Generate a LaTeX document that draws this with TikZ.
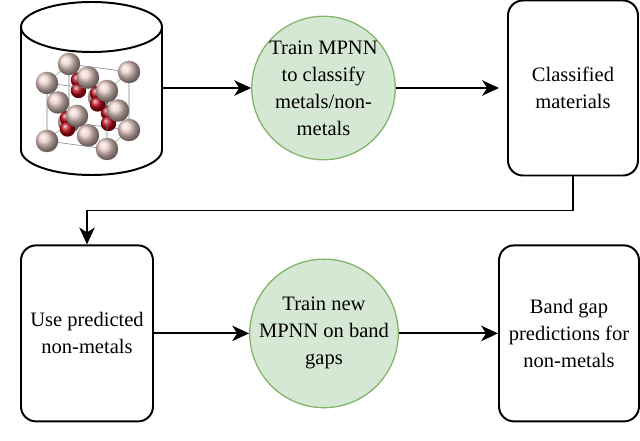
\documentclass[tikz,border=0pt]{standalone}
\usepackage{fontspec}
\setmainfont{Liberation Serif}
\usetikzlibrary{arrows.meta,positioning}
\definecolor{mpnnfill}{RGB}{213,232,212}
\definecolor{mpnnline}{RGB}{130,179,102}
\definecolor{atompink}{RGB}{232,204,198}
\definecolor{atomred}{RGB}{185,8,22}
\definecolor{bondgreen}{RGB}{165,205,160}
\tikzset{
	box/.style={draw, line width=1.4pt, rounded corners=0.375cm, align=center,
		font=\fontsize{14.6}{19.2}\selectfont},
	mpnn/.style={circle, draw=mpnnline, fill=mpnnfill, line width=0.9pt, minimum size=3.5cm,
		inner sep=0pt, align=center, font=\fontsize{14.6}{19.2}\selectfont},
	conn/.style={line width=1.3pt, -{Stealth[length=12pt,width=11pt,inset=3.5pt]}},
	pinkatom/.style={ball color=atompink},
	redatom/.style={ball color=atomred}
}

\begin{document}
\begin{tikzpicture}
	\useasboundingbox (0,0) rectangle (16,11);
	%%  database of structures  %%%%%%%%
	\node[minimum width=3.525cm, minimum height=4.3cm, inner sep=0pt] (db) at (2.2875,8.8) {};
	\draw[line width=1.4pt, fill=white] (0.525,10.325) -- (0.525,7.25)
		arc[start angle=180, end angle=360, x radius=1.7625cm, y radius=0.625cm] -- (4.05,10.325);
	\draw[line width=1.4pt] (2.2875,10.325) ellipse [x radius=1.7625cm, y radius=0.625cm];
	%% crystal cell
	\begin{scope}[shift={(1.175,7.475)}, x={(1.5cm,-0.2cm)}, y={(0.55cm,0.475cm)}, z={(0cm,1.45cm)}]
		\draw[gray, line width=0.4pt] (0,1,0) -- (1,1,0) -- (1,1,1) -- (0,1,1) -- cycle;
		\foreach \u/\w in {0/0,1/0,0/1,1/1}
			\draw[bondgreen, line width=0.6pt] (\u,0,\w) -- (\u,1,\w);
		\foreach \u/\w in {0/0,1/0,0/1,1/1,0.5/0.5}
			\shade[pinkatom] (\u,1,\w) circle (8pt);
		\foreach \u/\w in {0.25/0.84,0.25/0.66,0.75/0.34,0.75/0.16}
			\shade[redatom] (\u,0.75,\w) circle (5.5pt);
		\foreach \u/\w in {0.5/0,0/0.5,1/0.5,0.5/1}
			\shade[pinkatom] (\u,0.5,\w) circle (8pt);
		\foreach \u/\w in {0.25/0.34,0.25/0.16,0.75/0.84,0.75/0.66}
			\shade[redatom] (\u,0.25,\w) circle (5.5pt);
		\draw[gray, line width=0.4pt] (0,0,0) -- (1,0,0) -- (1,0,1) -- (0,0,1) -- cycle;
		\foreach \u/\w in {0/0,1/0,0/1,1/1,0.5/0.5}
			\shade[pinkatom] (\u,0,\w) circle (8pt);
	\end{scope}
	%%  steps  %%%%%%%%
	\node[mpnn] (trainclf) at (8.0875,8.8) {Train MPNN\\to classify\\metals/non-\\metals};
	\node[box, minimum width=3.25cm, minimum height=4.375cm] (classified) at (14.325,8.8) {Classified\\materials};
	\node[box, minimum width=3.3cm, minimum height=4.4cm] (usepred) at (2.175,2.665) {Use predicted\\non-metals};
	\node[mpnn] (trainbg) at (8.1,2.665) {Train new\\MPNN on band\\gaps};
	\node[box, minimum width=3.5cm, minimum height=4.4cm] (bandgap) at (14.225,2.665) {Band gap\\predictions for\\non-metals};
	%%  connectors  %%%%%%%%
	\draw[conn] (db.east) -- (trainclf.west);
	\draw[conn, shorten >=0.2cm] (trainclf.east) -- (classified.west);
	\draw[conn] (classified.south) -- ++(0,-0.85) -| (usepred.north);
	\draw[conn] (usepred.east) -- (trainbg.west);
	\draw[conn] (trainbg.east) -- (bandgap.west);
\end{tikzpicture}
\end{document}
